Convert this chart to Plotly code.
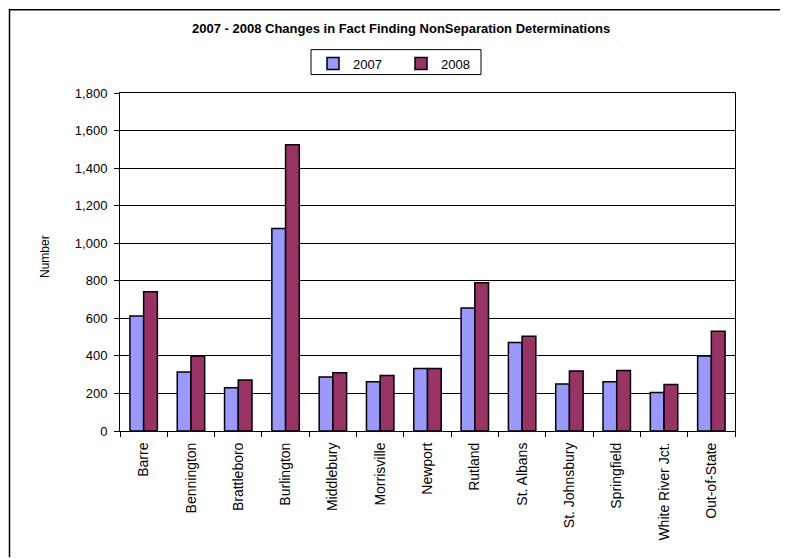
import plotly.graph_objects as go

offices = ["Barre", "Bennington", "Brattleboro", "Burlington", "Middlebury", "Morrisville",
           "Newport", "Rutland", "St. Albans", "St. Johnsbury", "Springfield",
           "White River Jct.", "Out-of-State"]
v2007 = [612, 314, 230, 1078, 288, 262, 333, 655, 471, 250, 262, 205, 400]
v2008 = [741, 400, 271, 1524, 310, 296, 333, 790, 504, 320, 322, 248, 531]
y_ticks = [0, 200, 400, 600, 800, 1000, 1200, 1400, 1600, 1800]

OFF = 8  # page body margin
W, H = 788 - OFF, 558 - OFF
L, R, T, B = 120 - OFF, 735 - OFF, 92.5 - OFF, 431.5 - OFF

def px(x):
    return (x - OFF - L) / (R - L)

def py(y):
    return (B - (y - OFF)) / (B - T)

FONT = "Liberation Sans, Arial, sans-serif"

fig = go.Figure()
fig.add_trace(go.Bar(x=offices, y=v2007, name="2007",
                     marker=dict(color="#9999FF", line=dict(color="black", width=1.5))))
fig.add_trace(go.Bar(x=offices, y=v2008, name="2008",
                     marker=dict(color="#993366", line=dict(color="black", width=1.5))))

fig.update_layout(
    width=W, height=H,
    margin=dict(l=L, r=W - R, t=T, b=H - B, autoexpand=False),
    paper_bgcolor="white", plot_bgcolor="white",
    font=dict(family=FONT, size=12, color="black"),
    barmode="group", bargap=0.42, bargroupgap=0,
    showlegend=True,
    legend=dict(orientation="h", x=px(313), xanchor="left", y=py(48), yanchor="top",
                borderwidth=0, bgcolor="rgba(0,0,0,0)",
                font=dict(family=FONT, size=13),
                entrywidth=43, entrywidthmode="pixels", itemwidth=30,
                tracegroupgap=0),
    xaxis=dict(type="category", showline=True, linecolor="black", linewidth=1, mirror=True,
               ticks="outside", ticklen=5, tickcolor="black", tickson="boundaries",
               tickangle=-90, tickfont=dict(family=FONT, size=14), showgrid=False,
               ticklabelstandoff=5, automargin=False),
    yaxis=dict(range=[0, 1800], tickvals=y_ticks, tickformat=",d",
               showline=True, linecolor="black", linewidth=1, mirror=True,
               ticks="outside", ticklen=5, tickcolor="black",
               showgrid=True, gridcolor="black", gridwidth=1,
               ticklabelstandoff=4,
               tickfont=dict(family=FONT, size=13), zeroline=False, automargin=False),
    annotations=[
        dict(text="<b>2007 - 2008 Changes in Fact Finding NonSeparation Determinations</b>",
             xref="paper", yref="paper", x=px(401), y=py(28), xanchor="center", yanchor="middle",
             showarrow=False, font=dict(family=FONT, size=13)),
        dict(text="Number", xref="paper", yref="paper", x=px(45), y=py(257),
             xanchor="center", yanchor="middle", textangle=-90, showarrow=False,
             font=dict(family=FONT, size=12)),
    ],
    shapes=[
        dict(type="rect", xref="paper", yref="paper", x0=px(311), x1=px(481), y0=py(49), y1=py(74),
             line=dict(color="black", width=1), fillcolor="rgba(0,0,0,0)", layer="above"),
        dict(type="line", xref="paper", yref="paper", x0=px(9), x1=px(788), y0=py(9), y1=py(9),
             line=dict(color="black", width=1.5)),
        dict(type="line", xref="paper", yref="paper", x0=px(9.5), x1=px(9.5), y0=py(8), y1=py(558),
             line=dict(color="black", width=1.5)),
    ],
)

fig.write_html("out.html")
